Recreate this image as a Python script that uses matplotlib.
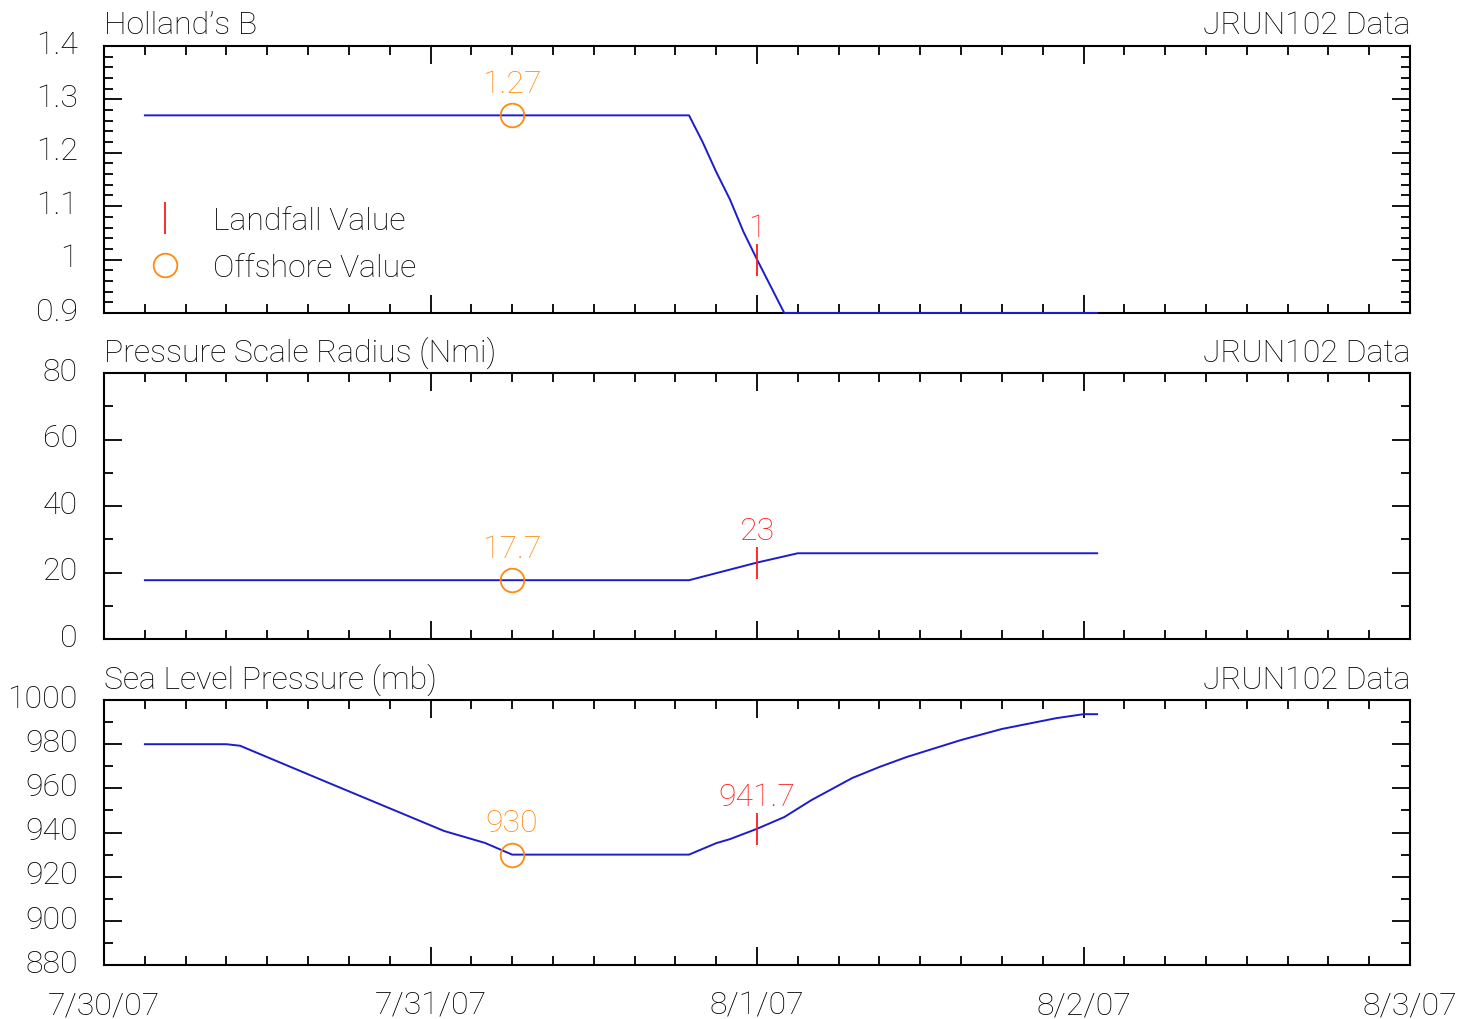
import matplotlib
matplotlib.use('Agg')
import matplotlib.pyplot as plt
import matplotlib.dates as mdates
from matplotlib.lines import Line2D
from matplotlib.ticker import MultipleLocator, FuncFormatter
from matplotlib.transforms import ScaledTranslation
import pandas as pd

plt.rcParams['font.family'] = ['Roboto', 'DejaVu Sans']
plt.rcParams['font.weight'] = 'light'
plt.rcParams['axes.titleweight'] = 'light'

start = pd.Timestamp('2007-07-30')

# hours since 7/30/07 00:00
b_hours = [3, 43, 44, 45, 46, 47, 48, 50, 73]
b_vals = [1.27, 1.27, 1.22, 1.164, 1.113, 1.052, 1.0, 0.9, 0.9]

rmax_hours = [3, 43, 48, 51, 73]
rmax_vals = [17.7, 17.7, 23.0, 25.8, 25.8]

slp_hours = [3, 9, 10, 16, 19, 25, 28, 30, 43, 45, 46, 48, 50, 52, 55, 57, 59, 63, 66, 70, 72, 73]
slp_vals = [980, 980, 979.3, 963.8, 956.1, 940.7, 935.3, 930, 930, 935.2, 937.0, 941.7,
            947.0, 954.7, 964.7, 969.7, 974.2, 981.9, 986.9, 991.8, 993.6, 993.6]

landfall_hour = 48
offshore_hour = 30
landfall_vals = [1.0, 23.0, 941.7]
offshore_vals = [1.27, 17.7, 930.0]
landfall_labels = ['1', '23', '941.7']
offshore_labels = ['1.27', '17.7', '930']

titles = ['Holland\u2019s B', 'Pressure Scale Radius (Nmi)', 'Sea Level Pressure (mb)']
source = 'JRUN102 Data'
ylims = [(0.9, 1.4), (0, 80), (880, 1000)]
ymajor = [0.1, 20, 20]
yminor = [0.02, 10, 10]

blue = '#1c1ccc'
red = '#ff1a1a'
orange = '#ff8a10'
fs = 23


def to_time(hours):
    return start + pd.to_timedelta(hours, unit='h')


fig = plt.figure(figsize=(14.74, 10.2), dpi=100)
boxes = [
    [0.0706, 0.6922, 0.886, 0.2618],
    [0.0706, 0.3725, 0.886, 0.2608],
    [0.0706, 0.0529, 0.886, 0.2598],
]
series = [(b_hours, b_vals), (rmax_hours, rmax_vals), (slp_hours, slp_vals)]
lift = ScaledTranslation(0, 3.5 / 72, fig.dpi_scale_trans)

for i, box in enumerate(boxes):
    ax = fig.add_axes(box)
    hrs, vals = series[i]
    ax.plot(to_time(hrs), vals, color=blue, lw=1.4, zorder=3, clip_on=False)

    lt = to_time([landfall_hour])[0]
    ot = to_time([offshore_hour])[0]
    ax.plot([lt], [landfall_vals[i]], ls='none', marker='|', ms=23, mew=1.3,
            color=red, zorder=4)
    ax.plot([ot], [offshore_vals[i]], ls='none', marker='o', ms=17, mew=1.3,
            mfc='none', mec=orange, zorder=4)
    ax.annotate(landfall_labels[i], (lt, landfall_vals[i]), xytext=(0, 17),
                textcoords='offset points', ha='center', va='baseline',
                color=red, fontsize=fs)
    ax.annotate(offshore_labels[i], (ot, offshore_vals[i]), xytext=(0, 17),
                textcoords='offset points', ha='center', va='baseline',
                color=orange, fontsize=fs)

    ax.set_xlim(start, start + pd.Timedelta(days=4))
    ax.set_ylim(*ylims[i])
    ax.xaxis.set_major_locator(mdates.DayLocator())
    ax.xaxis.set_minor_locator(mdates.HourLocator(byhour=range(0, 24, 3)))
    ax.yaxis.set_major_locator(MultipleLocator(ymajor[i]))
    ax.yaxis.set_minor_locator(MultipleLocator(yminor[i]))
    ax.yaxis.set_major_formatter(FuncFormatter(lambda v, p: f'{v:g}'))
    if i == 2:
        ax.xaxis.set_major_formatter(FuncFormatter(
            lambda v, p: '{d.month}/{d.day}/{d:%y}'.format(d=mdates.num2date(v))))
    else:
        ax.xaxis.set_major_formatter(FuncFormatter(lambda v, p: ''))

    ax.tick_params(which='both', direction='in', top=True, right=True,
                   width=1.3, labelsize=fs, color='black')
    ax.tick_params(which='major', length=13)
    ax.tick_params(which='minor', length=6.5)
    ax.tick_params(axis='y', pad=19)
    ax.tick_params(axis='x', pad=18)
    for s in ax.spines.values():
        s.set_linewidth(1.5)
    for lab in ax.get_yticklabels():
        lab.set_transform(lab.get_transform() + lift)

    ax.set_title(titles[i], loc='left', fontsize=fs, pad=9)
    ax.set_title(source, loc='right', fontsize=fs, pad=9)

    if i == 0:
        handles = [
            Line2D([], [], ls='none', marker='|', ms=23, mew=1.3, color=red),
            Line2D([], [], ls='none', marker='o', ms=17, mew=1.3, mfc='none', mec=orange),
        ]
        ax.legend(handles, ['Landfall Value', 'Offshore Value'], loc='upper left',
                  bbox_to_anchor=(0.0345, 0.40), frameon=False, fontsize=fs,
                  borderaxespad=0, borderpad=0, handlelength=1.0,
                  handletextpad=1.0, labelspacing=0.55)

fig.savefig('out.png', dpi=100)
